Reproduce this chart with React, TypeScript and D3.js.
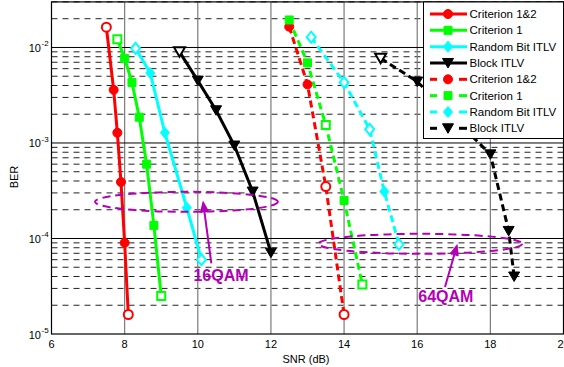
import React from "react";
import * as d3 from "d3";

// ---- Data ----
const snr16C12 = [7.5, 7.7, 7.8, 7.9, 8.0, 8.1];
const ber16C12 = [1.63e-2, 3.6e-3, 1.28e-3, 3.9e-4, 9.0e-5, 1.6e-5];
const snr16C1 = [7.8, 8.0, 8.2, 8.4, 8.6, 8.8, 9.0];
const ber16C1 = [1.22e-2, 7.7e-3, 4.3e-3, 1.86e-3, 6.0e-4, 1.37e-4, 2.5e-5];
const snr16RB = [8.3, 8.7, 9.1, 9.7, 10.1];
const ber16RB = [9.8e-3, 5.4e-3, 1.28e-3, 2.1e-4, 6.0e-5];
const snr16Blk = [9.5, 10.0, 10.5, 11.0, 11.5, 12.0];
const ber16Blk = [9.0e-3, 4.5e-3, 2.2e-3, 9.4e-4, 3.1e-4, 7.1e-5];

const snr64C12 = [12.5, 13.0, 13.5, 14.0];
const ber64C12 = [1.65e-2, 4.1e-3, 3.5e-4, 1.6e-5];
const snr64C1 = [12.5, 13.0, 13.5, 14.0, 14.5];
const ber64C1 = [1.94e-2, 6.9e-3, 1.54e-3, 2.5e-4, 3.3e-5];
const snr64RB = [13.1, 14.0, 14.7, 15.1, 15.5];
const ber64RB = [1.28e-2, 4.3e-3, 1.39e-3, 3.1e-4, 8.7e-5];
const snr64Blk = [15.0, 16.0, 18.0, 18.5, 18.65];
const ber64Blk = [7.7e-3, 4.4e-3, 7.6e-4, 1.2e-4, 4.0e-5];

const xTicks = [6, 8, 10, 12, 14, 16, 18, 20];
const yDecades = [-5, -4, -3, -2];
const legendLabels = [
  "Criterion 1&2",
  "Criterion 1",
  "Random Bit ITLV",
  "Block ITLV",
  "Criterion 1&2",
  "Criterion 1",
  "Random Bit ITLV",
  "Block ITLV",
];

type Marker = "circle" | "square" | "diamond" | "tri";
interface Series {
  snr: number[];
  ber: number[];
  color: string;
  marker: Marker;
  dashed: boolean;
  hollow: number[];
}

const series: Series[] = [
  { snr: snr16C12, ber: ber16C12, color: "#ff0000", marker: "circle", dashed: false, hollow: [0, 5] },
  { snr: snr16C1, ber: ber16C1, color: "#00ff00", marker: "square", dashed: false, hollow: [0, 6] },
  { snr: snr16RB, ber: ber16RB, color: "#00ffff", marker: "diamond", dashed: false, hollow: [0, 4] },
  { snr: snr16Blk, ber: ber16Blk, color: "#000000", marker: "tri", dashed: false, hollow: [0] },
  { snr: snr64C12, ber: ber64C12, color: "#ff0000", marker: "circle", dashed: true, hollow: [2, 3] },
  { snr: snr64C1, ber: ber64C1, color: "#00ff00", marker: "square", dashed: true, hollow: [2, 4] },
  { snr: snr64RB, ber: ber64RB, color: "#00ffff", marker: "diamond", dashed: true, hollow: [0, 1, 2, 4] },
  { snr: snr64Blk, ber: ber64Blk, color: "#000000", marker: "tri", dashed: true, hollow: [0] },
];

const W = 564;
const H = 367;
const FONT = "'Liberation Sans', Arial, Helvetica, sans-serif";
const MAG = "#b400b4";

const x = d3.scaleLinear().domain([6, 20]).range([51.5, 563.5]);
const y = d3.scaleLog().domain([1e-5, 3e-2]).range([334, 1.9]);

function markerPath(m: Marker): string {
  switch (m) {
    case "circle":
      return "M4.5,0A4.5,4.5 0 1,1 -4.5,0A4.5,4.5 0 1,1 4.5,0Z";
    case "square":
      return "M-4,-4H4V4H-4Z";
    case "diamond":
      return "M0,-5.5L4.5,0L0,5.5L-4.5,0Z";
    case "tri":
      return "M-5.5,-4.5H5.5L0,5Z";
  }
}

function MarkerShape({ m, color, cx, cy, hollow }: { m: Marker; color: string; cx: number; cy: number; hollow: boolean }) {
  return (
    <path
      d={markerPath(m)}
      transform={`translate(${cx},${cy})`}
      fill={hollow ? "#ffffff" : color}
      stroke={color}
      strokeWidth={hollow ? 2 : 1}
    />
  );
}

export default function App() {
  const left = x(6);
  const right = x(20);
  const top = y(3e-2);
  const bottom = y(1e-5);

  const minor: number[] = [];
  yDecades.forEach((e) => {
    for (let k = 2; k <= 9; k++) {
      const v = k * Math.pow(10, e);
      if (v <= 3e-2) minor.push(v);
    }
  });

  const line = d3
    .line<[number, number]>()
    .x((d) => x(d[0]))
    .y((d) => y(d[1]));

  // annotation geometry in data space
  const e16 = { x0: 7.19, x1: 12.19, yc: 2.42e-4 };
  const e64 = { x0: 13.3, x1: 18.87, yc: 8.8e-5 };

  const arrow = (x0: number, y0: number, x1: number, y1: number) => {
    const px0 = x(x0), py0 = y(y0), px1 = x(x1), py1 = y(y1);
    const ang = Math.atan2(py1 - py0, px1 - px0);
    const L = 10, a = 0.38;
    const hx1 = px1 - L * Math.cos(ang - a), hy1 = py1 - L * Math.sin(ang - a);
    const hx2 = px1 - L * Math.cos(ang + a), hy2 = py1 - L * Math.sin(ang + a);
    return (
      <g stroke={MAG} strokeWidth={2} fill="none">
        <line x1={px0} y1={py0} x2={px1} y2={py1} />
        <path d={`M${hx1},${hy1}L${px1},${py1}L${hx2},${hy2}`} fill={MAG} />
      </g>
    );
  };

  const ellipse = (e: { x0: number; x1: number; yc: number }) => {
    const cx = (x(e.x0) + x(e.x1)) / 2;
    const rx = (x(e.x1) - x(e.x0)) / 2;
    return (
      <ellipse cx={cx} cy={y(e.yc)} rx={rx} ry={10} fill="none" stroke={MAG} strokeWidth={2} strokeDasharray="8,5" />
    );
  };

  const lgX = 423.5, lgY = 2, lgW = 140, lgH = 136.5;

  return (
    <svg width={W} height={H} style={{ position: "absolute", left: 0, top: 0, background: "#fff" }} fontFamily={FONT}>
      <rect x={0} y={0} width={W} height={H} fill="#fff" />
      {/* minor horizontal grid */}
      {minor.map((v, i) => (
        <line key={"mn" + i} x1={left} x2={right} y1={y(v)} y2={y(v)} stroke="#222" strokeWidth={1} strokeDasharray="6,5" />
      ))}
      {/* vertical grid */}
      {xTicks.slice(1, -1).map((t) => (
        <line key={"vx" + t} x1={x(t)} x2={x(t)} y1={top} y2={bottom} stroke="#7a7a7a" strokeWidth={1.2} />
      ))}
      {/* major horizontal grid */}
      {yDecades.slice(1).map((e) => (
        <line key={"mj" + e} x1={left} x2={right} y1={y(Math.pow(10, e))} y2={y(Math.pow(10, e))} stroke="#000" strokeWidth={1} />
      ))}
      {/* frame */}
      <rect x={left} y={top} width={right - left} height={bottom - top} fill="none" stroke="#000" strokeWidth={1.2} />

      {/* series lines */}
      {series.map((s, i) => (
        <path
          key={"ln" + i}
          d={line(s.snr.map((v, j) => [v, s.ber[j]] as [number, number])) || ""}
          fill="none"
          stroke={s.color}
          strokeWidth={3}
          strokeDasharray={s.dashed ? "7,4" : undefined}
        />
      ))}
      {/* markers */}
      {series.map((s, i) =>
        s.snr.map((v, j) => (
          <MarkerShape key={"mk" + i + "-" + j} m={s.marker} color={s.color} cx={x(v)} cy={y(s.ber[j])} hollow={s.hollow.includes(j)} />
        ))
      )}

      {/* annotations */}
      {ellipse(e16)}
      {ellipse(e64)}
      {arrow(10.37, 5.5e-5, 10.15, 2.35e-4)}
      {arrow(16.76, 3.1e-5, 17.08, 8.3e-5)}
      <text x={x(9.88)} y={281} fontSize={16} fontWeight="bold" fill={MAG}>16QAM</text>
      <text x={x(16.03)} y={301.5} fontSize={16} fontWeight="bold" fill={MAG}>64QAM</text>

      {/* x tick labels */}
      {xTicks.map((t) => (
        <text key={"xt" + t} x={x(t)} y={348} fontSize={11} textAnchor="middle" fill="#000">
          {t}
        </text>
      ))}
      {/* y tick labels */}
      {yDecades.map((e) => (
        <text key={"yt" + e} x={41} y={y(Math.pow(10, e)) + 4.5} fontSize={11} textAnchor="end" fill="#000">
          10
        </text>
      ))}
      {yDecades.map((e) => (
        <text key={"ye" + e} x={41.5} y={y(Math.pow(10, e)) - 1} fontSize={8} fill="#000">
          {"-" + Math.abs(e)}
        </text>
      ))}
      <text x={306} y={363} fontSize={11} textAnchor="middle" fill="#000">SNR (dB)</text>
      <text transform="translate(18,177) rotate(-90)" fontSize={11} textAnchor="middle" fill="#000">BER</text>

      {/* legend */}
      <rect x={lgX} y={lgY} width={lgW} height={lgH} fill="#fff" stroke="#000" strokeWidth={1} />
      {series.map((s, i) => {
        const ly = 14 + i * 16.33;
        return (
          <g key={"lg" + i}>
            {s.dashed ? (
              <g stroke={s.color} strokeWidth={3}>
                <line x1={430} x2={437} y1={ly} y2={ly} />
                <line x1={459} x2={467} y1={ly} y2={ly} />
              </g>
            ) : (
              <line x1={430} x2={467} y1={ly} y2={ly} stroke={s.color} strokeWidth={3} />
            )}
            <MarkerShape m={s.marker} color={s.color} cx={448} cy={ly} hollow={false} />
            <text x={469.5} y={ly + 4} fontSize={11.5} fill="#000">
              {legendLabels[i]}
            </text>
          </g>
        );
      })}
    </svg>
  );
}
